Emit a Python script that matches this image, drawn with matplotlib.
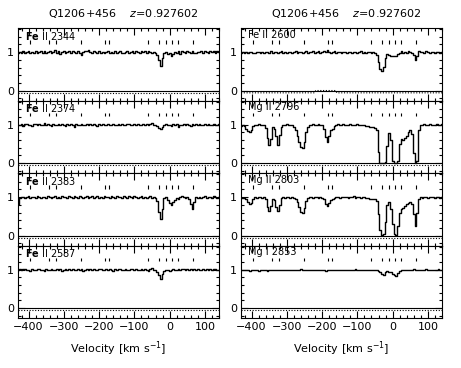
import numpy as np
import matplotlib.pyplot as plt
from matplotlib.ticker import MultipleLocator, FixedLocator

# pixel grid of the spectra (km/s)
vel = np.arange(-430, 141, 5)

fe2344 = [0.97, 1.01, 0.99, 1.03, 0.98, 1.00, 1.02, 0.97, 1.01, 0.99,
          1.03, 0.98, 1.00, 1.04, 0.99, 1.02, 0.97, 1.01, 1.03, 0.98,
          1.00, 1.05, 0.99, 1.02, 0.96, 1.01, 1.03, 0.99, 1.00, 1.04,
          0.98, 1.02, 1.01, 0.97, 1.03, 0.99, 0.92, 1.00, 1.04, 1.02,
          1.06, 1.01, 0.99, 1.03, 1.00, 0.98, 1.02, 0.99, 1.01, 0.97,
          1.00, 1.02, 0.98, 1.01, 0.99, 1.03, 0.97, 1.00, 1.02, 0.99,
          0.98, 1.01, 1.03, 0.97, 1.00, 1.04, 0.99, 1.02, 1.00, 0.98,
          1.03, 1.01, 1.04, 0.99, 1.02, 1.00, 0.98, 1.01, 0.97, 0.93,
          0.80, 0.63, 0.86, 0.97, 1.00, 0.94, 0.98, 0.90, 0.96, 1.01,
          0.98, 1.02, 0.95, 1.04, 1.00, 0.97, 1.02, 1.01, 0.99, 1.03,
          0.98, 0.97, 1.00, 1.01, 1.03, 0.99, 1.02, 1.00, 0.98, 1.02,
          1.01, 1.03, 0.99, 1.02, 1.00]

fe2374 = [0.98, 1.00, 1.02, 0.97, 1.01, 1.03, 0.99, 1.00, 0.96, 1.02,
          1.01, 0.98, 1.03, 1.00, 0.99, 1.04, 0.98, 1.01, 1.00, 0.97,
          1.02, 1.00, 0.99, 1.03, 0.98, 1.01, 1.00, 0.97, 1.02, 0.99,
          1.01, 0.98, 0.93, 1.02, 0.99, 1.00, 1.01, 0.98, 1.00, 1.02,
          0.99, 1.01, 0.98, 1.02, 1.00, 0.97, 1.01, 0.99, 1.03, 1.00,
          0.98, 1.01, 1.00, 0.99, 1.02, 0.98, 1.00, 1.01, 0.99, 1.02,
          1.00, 0.98, 1.01, 1.03, 0.99, 1.00, 1.02, 0.98, 1.01, 1.00,
          0.99, 1.02, 1.00, 1.03, 0.98, 1.01, 1.04, 0.99, 1.00, 0.96,
          0.92, 0.88, 0.95, 0.99, 1.02, 0.98, 1.00, 0.96, 1.01, 0.99,
          1.02, 0.95, 1.00, 0.99, 1.01, 0.98, 1.02, 1.00, 0.97, 1.01,
          1.00, 1.02, 0.99, 1.01, 0.98, 1.00, 1.02, 0.99, 1.01, 1.00,
          0.99, 1.02, 1.00, 0.98, 1.01]

fe2383 = [0.82, 0.98, 1.00, 1.01, 0.99, 1.00, 1.02, 0.99, 1.00, 1.01,
          0.99, 1.02, 1.00, 0.98, 1.01, 1.00, 0.99, 1.02, 1.01, 0.98,
          1.00, 1.03, 0.99, 1.01, 0.98, 1.02, 1.00, 1.01, 0.99, 1.03,
          1.00, 0.98, 1.02, 1.01, 0.99, 1.03, 1.00, 0.98, 1.01, 1.02,
          0.99, 1.01, 1.03, 0.98, 1.00, 1.02, 0.99, 1.01, 0.98, 1.02,
          1.00, 1.01, 0.99, 1.03, 1.00, 0.98, 1.02, 1.00, 1.01, 0.99,
          1.02, 1.00, 0.98, 1.04, 1.01, 0.99, 1.02, 1.00, 0.98, 1.01,
          1.03, 0.99, 1.01, 0.98, 1.00, 1.02, 0.99, 1.01, 0.98, 0.90,
          0.62, 0.43, 0.70, 0.98, 1.01, 0.92, 0.84, 0.80, 0.88, 0.93,
          0.97, 0.95, 1.01, 1.03, 1.00, 0.98, 1.01, 0.95, 0.82, 0.70,
          0.88, 1.01, 0.99, 1.01, 0.97, 1.00, 1.02, 0.99, 1.01, 1.00,
          0.98, 1.02, 1.00, 0.99, 1.01]

fe2587 = [0.99, 1.02, 0.98, 1.01, 1.03, 0.99, 1.00, 0.97, 1.02, 1.00,
          0.98, 1.01, 1.03, 0.99, 1.00, 0.96, 1.02, 1.00, 0.99, 1.03,
          1.00, 0.98, 1.01, 0.99, 1.02, 0.97, 1.00, 1.01, 0.98, 1.02,
          0.99, 1.01, 0.98, 1.00, 1.02, 0.99, 1.01, 0.97, 1.00, 1.03,
          0.98, 1.01, 0.99, 1.02, 1.00, 0.98, 1.03, 1.01, 0.99, 1.00,
          1.02, 0.98, 1.01, 1.00, 0.97, 1.02, 0.99, 1.01, 1.03, 1.00,
          0.99, 1.02, 1.00, 0.98, 1.03, 1.01, 0.99, 1.02, 0.98, 1.00,
          1.01, 0.99, 1.03, 1.00, 0.97, 1.02, 1.04, 0.98, 1.00, 0.95,
          0.86, 0.76, 0.90, 0.97, 1.00, 0.98, 0.96, 0.99, 1.01, 0.98,
          1.00, 1.02, 0.99, 1.01, 1.03, 0.98, 1.02, 1.00, 1.03, 0.99,
          1.01, 0.98, 1.02, 1.00, 0.99, 1.03, 0.98, 1.01, 1.00, 1.02,
          0.99, 1.01, 1.03, 0.98, 1.00]

fe2600 = [0.98, 1.00, 0.99, 1.01, 0.98, 1.00, 1.01, 0.99, 0.98, 1.00,
          1.01, 0.99, 1.00, 0.98, 1.01, 1.00, 0.99, 1.02, 0.98, 1.00,
          1.01, 0.99, 1.00, 1.02, 0.99, 1.01, 0.98, 1.00, 1.01, 0.99,
          1.00, 1.02, 0.99, 1.00, 1.01, 0.98, 1.00, 1.02, 0.99, 1.01,
          1.00, 1.03, 0.99, 1.01, 1.02, 0.98, 1.01, 1.03, 1.00, 1.05,
          1.01, 0.98, 1.00, 1.02, 0.99, 1.00, 1.01, 0.99, 1.00, 1.01,
          0.99, 1.00, 1.01, 0.98, 1.00, 1.01, 0.99, 1.00, 1.02, 0.99,
          1.00, 0.98, 1.01, 1.00, 0.99, 1.00, 0.98, 0.93, 0.74, 0.55,
          0.50, 0.62, 0.85, 0.96, 0.93, 0.90, 0.89, 0.90, 0.91, 0.94,
          0.99, 1.02, 0.99, 1.01, 0.98, 1.02, 1.00, 0.99, 0.93, 0.80,
          0.90, 1.02, 1.00, 1.01, 0.99, 1.02, 1.00, 0.99, 1.01, 1.00,
          0.98, 1.01, 1.00, 0.99, 1.00]

mg2796 = [0.97, 0.98, 0.96, 0.90, 0.83, 0.80, 0.86, 0.96, 1.00, 0.99,
          1.01, 0.99, 1.00, 0.98, 0.92, 0.65, 0.47, 0.62, 0.93, 0.90,
          0.70, 0.48, 0.72, 0.95, 0.99, 1.00, 1.01, 0.99, 1.00, 0.98,
          0.95, 0.85, 0.70, 0.55, 0.42, 0.40, 0.55, 0.80, 0.95, 1.00,
          0.99, 1.01, 1.00, 0.99, 1.01, 1.00, 0.98, 0.90, 0.68, 0.56,
          0.70, 0.85, 0.88, 0.97, 1.00, 1.01, 0.99, 1.00, 1.01, 1.00,
          0.99, 1.00, 1.01, 1.00, 0.99, 1.00, 1.01, 0.99, 1.00, 0.98,
          0.99, 0.97, 0.96, 0.95, 0.93, 0.93, 0.92, 0.85, 0.30, 0.00,
          0.00, 0.00, 0.02, 0.45, 0.79, 0.60, 0.05, 0.00, 0.00, 0.05,
          0.50, 0.62, 0.60, 0.64, 0.70, 0.80, 0.85, 0.75, 0.25, 0.01,
          0.05, 0.85, 1.00, 0.99, 1.01, 1.00, 0.99, 1.01, 1.00, 0.99,
          1.00, 1.01, 0.99, 1.00, 1.01]

mg2803 = [0.97, 0.99, 0.98, 0.95, 0.88, 0.82, 0.84, 0.95, 1.00, 0.99,
          1.00, 1.01, 0.99, 1.00, 0.95, 0.75, 0.64, 0.78, 0.95, 0.92,
          0.75, 0.65, 0.80, 0.97, 1.00, 0.99, 1.01, 1.00, 0.99, 1.00,
          0.99, 0.96, 0.88, 0.75, 0.62, 0.60, 0.72, 0.90, 0.98, 1.00,
          1.01, 0.99, 1.00, 1.01, 0.99, 1.00, 0.99, 0.95, 0.82, 0.78,
          0.85, 0.93, 0.95, 0.99, 1.00, 1.01, 0.99, 1.00, 1.01, 1.00,
          1.00, 0.99, 1.01, 1.00, 1.02, 0.99, 1.00, 1.01, 0.99, 1.00,
          1.00, 0.98, 0.97, 0.96, 0.95, 0.95, 0.94, 0.90, 0.55, 0.15,
          0.01, 0.04, 0.35, 0.80, 0.87, 0.70, 0.30, 0.03, 0.02, 0.25,
          0.60, 0.68, 0.72, 0.76, 0.82, 0.86, 0.87, 0.83, 0.55, 0.26,
          0.60, 0.95, 1.00, 0.99, 1.01, 1.00, 0.99, 1.01, 1.00, 1.00,
          0.99, 1.01, 1.00, 0.99, 1.00]

mg2853 = [0.98, 0.99, 1.00, 0.98, 0.99, 0.97, 0.99, 1.00, 0.98, 0.99,
          0.97, 0.99, 0.98, 1.00, 0.99, 0.97, 0.99, 0.98, 1.00, 0.99,
          0.98, 1.00, 0.99, 0.98, 1.00, 0.99, 0.98, 0.99, 1.00, 0.98,
          0.99, 0.98, 1.00, 0.99, 1.01, 0.98, 0.99, 1.00, 0.98, 0.99,
          1.00, 0.98, 0.99, 1.00, 0.99, 0.98, 1.00, 0.99, 0.97, 0.99,
          1.00, 0.99, 0.98, 1.00, 0.99, 1.00, 0.98, 0.99, 1.00, 0.99,
          1.00, 0.98, 0.99, 1.00, 0.99, 1.01, 0.99, 1.00, 0.98, 1.00,
          0.99, 1.00, 0.98, 1.00, 0.99, 1.00, 0.98, 0.99, 0.97, 0.94,
          0.89, 0.87, 0.93, 0.96, 0.95, 0.94, 0.90, 0.85, 0.84, 0.92,
          0.97, 0.99, 0.98, 1.00, 0.99, 0.98, 1.00, 0.99, 1.01, 1.00,
          0.99, 1.00, 0.98, 1.00, 0.99, 1.01, 0.99, 1.00, 1.00, 0.99,
          1.00, 0.99, 1.01, 1.00, 0.99]

# error spectrum (dotted), only Fe II 2600 departs from the flat level
err_level = -0.06
err2600_vel = [-430, -222, -218, -162, -158, 140]
err2600 = [-0.06, -0.06, 0.0, 0.0, -0.06, -0.06]

# component velocities (tick marks)
comp_vel = [-397, -342, -322, -251, -183, -171, -62, -29, -11, 6, 25, 66]

left_labels = [r'$\mathbf{Fe}$ II 2344', r'$\mathbf{Fe}$ II 2374',
               r'$\mathbf{Fe}$ II 2383', r'$\mathbf{Fe}$ II 2587']
right_labels = ['Fe II 2600', 'Mg II 2796', 'Mg II 2803', 'Mg I 2853']
left_flux = [fe2344, fe2374, fe2383, fe2587]
right_flux = [fe2600, mg2796, mg2803, mg2853]

title = 'Q1206+456    $z$=0.927602'

W, H = 461, 368
fig = plt.figure(figsize=(W / 100, H / 100), dpi=100)
plt.rcParams['font.family'] = 'DejaVu Sans'

col_x = [18, 241]
col_w = 201
row_top = 28
row_h = 72.5

for c, (labels, fluxes) in enumerate([(left_labels, left_flux), (right_labels, right_flux)]):
    for r in range(4):
        y0 = H - (row_top + (r + 1) * row_h)
        ax = fig.add_axes([col_x[c] / W, y0 / H, col_w / W, row_h / H])
        ax.step(vel, fluxes[r], where='mid', color='black', lw=1.0)
        ax.axhline(0, color='black', lw=0.8)
        if c == 1 and r == 0:
            ax.plot(err2600_vel, err2600, color='black', lw=0.8, ls=(0, (1, 1.5)))
        else:
            ax.axhline(err_level, color='black', lw=0.8, ls=(0, (1, 1.5)))
        ax.vlines(comp_vel, 1.22, 1.31, color='black', lw=0.8)
        ax.set_xlim(-430, 140)
        ax.set_ylim(-0.26, 1.63)
        ax.xaxis.set_major_locator(MultipleLocator(100))
        ax.xaxis.set_minor_locator(MultipleLocator(20))
        ax.yaxis.set_major_locator(FixedLocator([0, 1]))
        ax.yaxis.set_minor_locator(MultipleLocator(0.2))
        ax.tick_params(which='both', direction='in', top=True, right=True,
                       width=0.8, labelsize=8, pad=3)
        ax.tick_params(which='major', length=5)
        ax.tick_params(which='minor', length=2.5)
        for s in ax.spines.values():
            s.set_linewidth(0.8)
        if r < 3:
            ax.tick_params(labelbottom=False)
        else:
            ax.set_xlabel('Velocity [km s$^{-1}$]', fontsize=8, labelpad=5)
        ax.text(0.035, 0.975, labels[r], transform=ax.transAxes,
                ha='left', va='top', fontsize=7)
    fig.text((col_x[c] + col_w / 2 + 5) / W, 1 - 14 / H, title,
             ha='center', va='center', fontsize=8)

fig.savefig('out.png', dpi=100)
